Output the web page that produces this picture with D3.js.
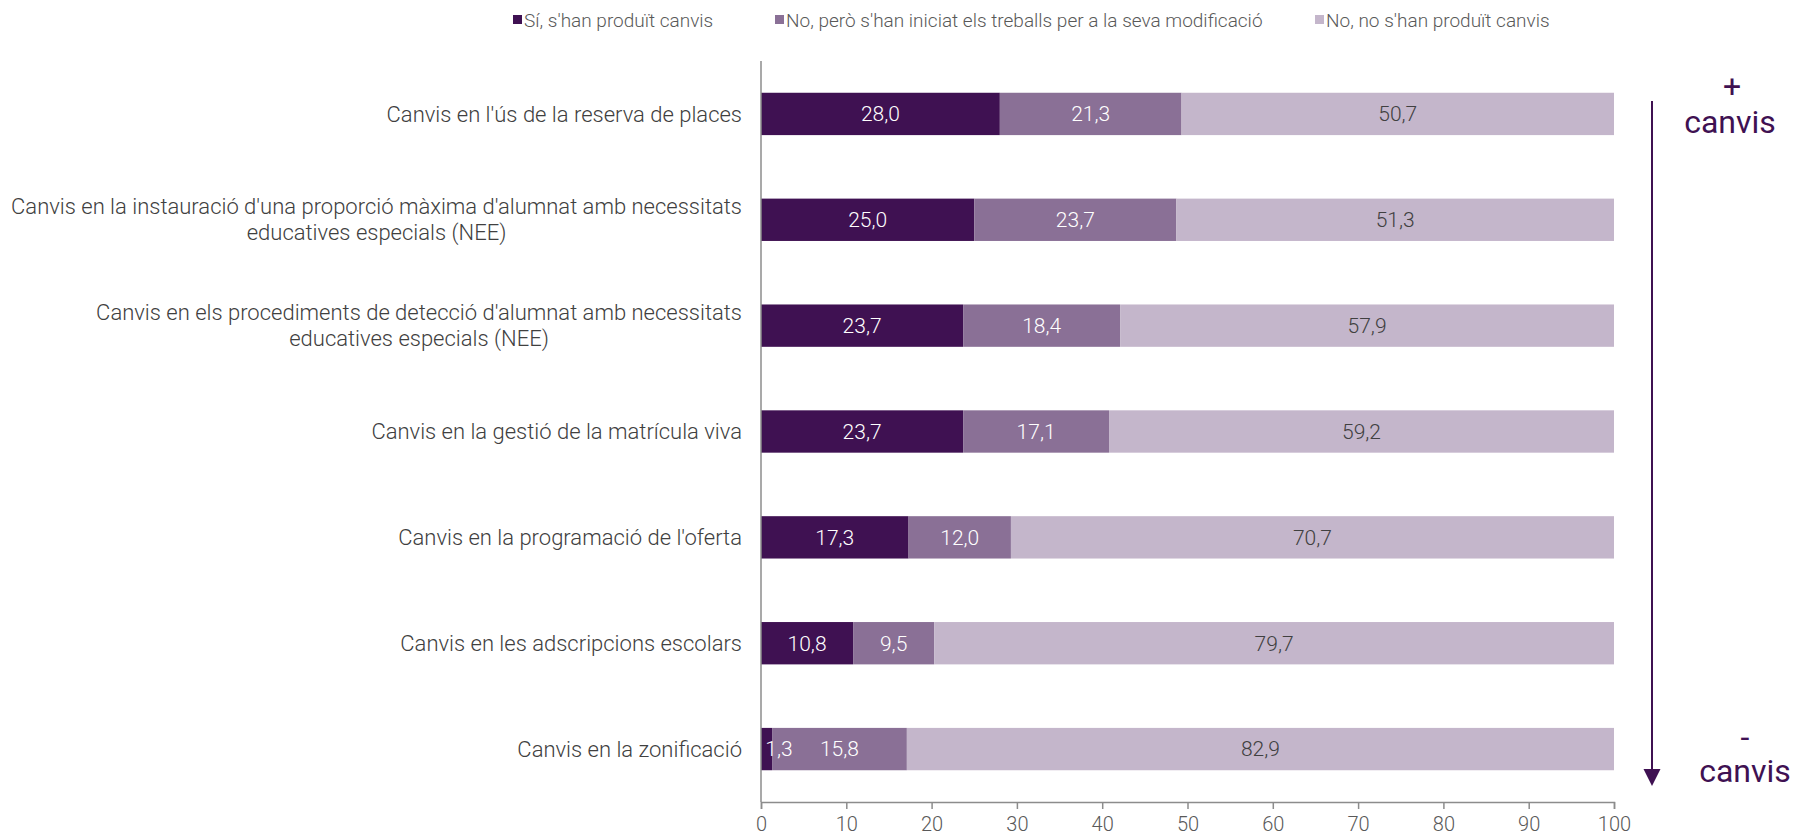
<!DOCTYPE html>
<html>
<head>
<meta charset="utf-8">
<script src="https://cdn.jsdelivr.net/npm/d3@7"></script>
<style>
  html, body { margin: 0; padding: 0; background: #ffffff; }
  svg { display: block; font-family: "Roboto", "Liberation Sans", sans-serif; font-weight: 300; }
</style>
</head>
<body>
<svg id="chart" width="1795" height="839"></svg>
<script>
const categories = [
  "Canvis en l'ús de la reserva de places",
  "Canvis en la instauració d'una proporció màxima d'alumnat amb necessitats\neducatives especials (NEE)",
  "Canvis en els procediments de detecció d'alumnat amb necessitats\neducatives especials (NEE)",
  "Canvis en la gestió de la matrícula viva",
  "Canvis en la programació de l'oferta",
  "Canvis en les adscripcions escolars",
  "Canvis en la zonificació"
];
const seriesNames = [
  "Sí, s'han produït canvis",
  "No, però s'han iniciat els treballs per a la seva modificació",
  "No, no s'han produït canvis"
];
const valuesSi       = [28.0, 25.0, 23.7, 23.7, 17.3, 10.8, 1.3];
const valuesIniciat  = [21.3, 23.7, 18.4, 17.1, 12.0, 9.5, 15.8];
const valuesNo       = [50.7, 51.3, 57.9, 59.2, 70.7, 79.7, 82.9];
const xTicks = [0, 10, 20, 30, 40, 50, 60, 70, 80, 90, 100];
const annotTop = ["+", "canvis"];
const annotBottom = ["-", "canvis"];

const colors = ["#3f1152", "#8a7096", "#c4b6cb"];
const labelColors = ["#ffffff", "#ffffff", "#404040"];

const svg = d3.select("#chart");
const margin = { left: 761, right: 1614, top: 61, bottom: 802 };

const x = d3.scaleLinear().domain([0, 100]).range([margin.left, margin.right]);
const y = d3.scaleBand().domain(d3.range(categories.length))
  .range([margin.top, margin.bottom]).paddingInner(0.6).paddingOuter(0.3);

const locale = d3.formatLocale({ decimal: ",", thousands: ".", grouping: [3], currency: ["", "€"] });
const fmt = locale.format(".1f");

// stacked data
const table = categories.map((c, i) => ({ i, s0: valuesSi[i], s1: valuesIniciat[i], s2: valuesNo[i] }));
const stack = d3.stack().keys(["s0", "s1", "s2"]);
const series = stack(table);

// bars
const gBars = svg.append("g");
series.forEach((s, k) => {
  gBars.selectAll(null).data(s).join("rect")
    .attr("x", d => x(d[0]))
    .attr("y", d => y(d.data.i))
    .attr("width", d => x(d[1]) - x(d[0]))
    .attr("height", y.bandwidth())
    .attr("fill", colors[k]);
});

// value labels
series.forEach((s, k) => {
  gBars.selectAll(null).data(s).join("text")
    .attr("x", d => Math.max((x(d[0]) + x(d[1])) / 2, x(d[0]) + 18))
    .attr("y", d => y(d.data.i) + y.bandwidth() / 2)
    .attr("dy", "0.35em")
    .attr("text-anchor", "middle")
    .attr("font-size", 21)
    .attr("fill", labelColors[k])
    .text(d => fmt(d[1] - d[0]));
});

// y axis line
svg.append("line")
  .attr("x1", x(0)).attr("x2", x(0))
  .attr("y1", margin.top).attr("y2", margin.bottom)
  .attr("stroke", "#8c8c8c").attr("stroke-width", 1.5);

// x axis
const xAxis = d3.axisBottom(x).tickValues(xTicks).tickSize(7).tickPadding(8).tickFormat(d => d);
const gx = svg.append("g").attr("transform", `translate(0,${margin.bottom})`).call(xAxis);
gx.select(".domain").attr("stroke", "#8c8c8c").attr("stroke-width", 1.5);
gx.selectAll(".tick line").attr("stroke", "#8c8c8c").attr("stroke-width", 1.5);
gx.selectAll(".tick text").attr("font-size", 20).attr("fill", "#595959")
  .attr("font-family", "Roboto, 'Liberation Sans', sans-serif").attr("font-weight", 300);

// category labels
const labelRight = x(0) - 19;
categories.forEach((c, i) => {
  const lines = c.split("\n");
  const g = svg.append("g");
  const n = lines.length;
  const lh = 26;
  const cy = y(i) + y.bandwidth() / 2;
  const texts = lines.map((ln, j) => g.append("text")
    .attr("y", cy + (j - (n - 1) / 2) * lh)
    .attr("dy", "0.35em")
    .attr("text-anchor", "middle")
    .attr("font-size", 22)
    .attr("fill", "#404040")
    .text(ln));
  const w = d3.max(texts, t => t.node().getComputedTextLength());
  texts.forEach(t => t.attr("x", labelRight - w / 2));
});

// legend
const legendX = [513, 775, 1315];
seriesNames.forEach((nm, k) => {
  svg.append("rect").attr("x", legendX[k]).attr("y", 15).attr("width", 9).attr("height", 9).attr("fill", colors[k]);
  svg.append("text").attr("x", legendX[k] + 11).attr("y", 20).attr("dy", "0.35em")
    .attr("font-size", 19).attr("fill", "#595959").text(nm);
});

// arrow annotation
const arrowColor = "#3f1152";
svg.append("line").attr("x1", 1652).attr("x2", 1652).attr("y1", 101).attr("y2", 772)
  .attr("stroke", arrowColor).attr("stroke-width", 2);
svg.append("path").attr("d", "M1643.5,769 L1660.5,769 L1652,786 Z").attr("fill", arrowColor);

svg.append("text").attr("x", 1732).attr("y", 86).attr("dy", "0.35em").attr("text-anchor", "middle")
  .attr("font-size", 32).attr("font-weight", 400).attr("fill", arrowColor).text(annotTop[0]);
svg.append("text").attr("x", 1730).attr("y", 133).attr("text-anchor", "middle")
  .attr("font-size", 32).attr("font-weight", 400).attr("fill", arrowColor).text(annotTop[1]);
svg.append("text").attr("x", 1745).attr("y", 737).attr("dy", "0.35em").attr("text-anchor", "middle")
  .attr("font-size", 32).attr("font-weight", 400).attr("fill", arrowColor).text(annotBottom[0]);
svg.append("text").attr("x", 1745).attr("y", 782).attr("text-anchor", "middle")
  .attr("font-size", 32).attr("font-weight", 400).attr("fill", arrowColor).text(annotBottom[1]);
</script>
</body>
</html>
